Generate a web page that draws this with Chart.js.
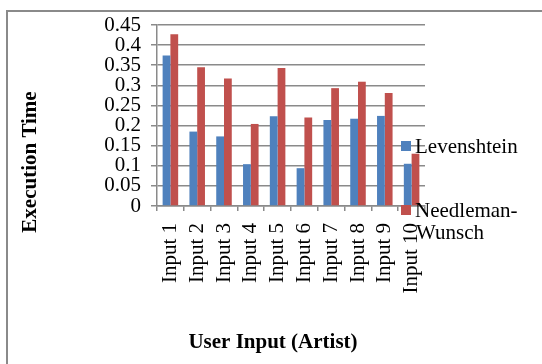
<!DOCTYPE html>
<html>
<head>
<meta charset="utf-8">
<script src="https://cdn.jsdelivr.net/npm/chart.js@4/dist/chart.umd.min.js"></script>
<style>
  html, body { margin: 0; padding: 0; background: #fff; }
  #wrap { position: relative; width: 542px; height: 364px; }
  #frame { position: absolute; left: 6px; top: 10px; right: -4px; bottom: -4px;
           border-left: 2px solid #8a8a8a; border-top: 2px solid #8a8a8a; }
  canvas { position: absolute; left: 0; top: 0; }
</style>
</head>
<body>
<div id="wrap">
  <div id="frame"></div>
  <canvas id="chart" width="542" height="364"></canvas>
</div>
<script>
const categories = ["Input 1", "Input 2", "Input 3", "Input 4", "Input 5",
                    "Input 6", "Input 7", "Input 8", "Input 9", "Input 10"];
const levenshtein = [0.374, 0.185, 0.173, 0.104, 0.223, 0.094, 0.214, 0.217, 0.224, 0.105];
const needleman = [0.427, 0.345, 0.317, 0.204, 0.343, 0.220, 0.293, 0.309, 0.281, 0.130];
const seriesNames = ["Levenshtein", "Needleman-Wunsch"];
const yTitle = "Execution Time";
const xTitle = "User Input (Artist)";

const serif = '"Liberation Serif", "Times New Roman", serif';
const blue = "#4F81BD";
const red = "#C0504D";

// titles + legend drawn by hand, the layout in the picture is not the default one
const extras = {
  id: "extras",
  afterDraw(chart) {
    const ctx = chart.ctx;
    ctx.save();
    ctx.fillStyle = "#000";
    ctx.font = "bold 21px " + serif;
    ctx.textAlign = "center";
    ctx.textBaseline = "middle";
    ctx.save();
    ctx.translate(31, 162);
    ctx.rotate(-Math.PI / 2);
    ctx.fillText(yTitle, 0, 0);
    ctx.restore();
    ctx.fillText(xTitle, 273, 343);

    ctx.font = "21px " + serif;
    ctx.textAlign = "left";
    ctx.fillStyle = blue;
    ctx.fillRect(401, 141, 10, 10);
    ctx.fillStyle = red;
    ctx.fillRect(401, 205, 10, 10);
    ctx.fillStyle = "#000";
    ctx.fillText(seriesNames[0], 415, 147);
    ctx.fillText("Needleman-", 415, 211);
    ctx.fillText("Wunsch", 416, 233);
    ctx.restore();
  }
};

new Chart(document.getElementById("chart"), {
  type: "bar",
  data: {
    labels: categories,
    datasets: [
      { label: seriesNames[0], data: levenshtein, backgroundColor: blue },
      { label: seriesNames[1], data: needleman, backgroundColor: red }
    ]
  },
  options: {
    responsive: false,
    animation: false,
    layout: { padding: { left: 0, top: 25, right: 117, bottom: 0 } },
    datasets: { bar: { categoryPercentage: 0.58, barPercentage: 1.0 } },
    plugins: { legend: { display: false }, tooltip: { enabled: false } },
    scales: {
      x: {
        afterFit: (s) => { s.height = 158; },
        grid: { offset: true, drawOnChartArea: false, color: "#8a8a8a", lineWidth: 1.5, tickLength: 5 },
        border: { color: "#8a8a8a", width: 1.5 },
        ticks: {
          color: "#000", font: { family: serif, size: 21 },
          minRotation: 90, maxRotation: 90, autoSkip: false, padding: 12
        }
      },
      y: {
        min: 0, max: 0.45,
        afterFit: (s) => { s.width = 157; },
        grid: { color: "#8a8a8a", lineWidth: 1.5, tickLength: 6 },
        border: { color: "#8a8a8a", width: 1.5 },
        ticks: {
          stepSize: 0.05, autoSkip: false, color: "#000", padding: 10,
          font: { family: serif, size: 21 },
          callback: (v) => String(Math.round(v * 100) / 100)
        }
      }
    }
  },
  plugins: [extras]
});
</script>
</body>
</html>
